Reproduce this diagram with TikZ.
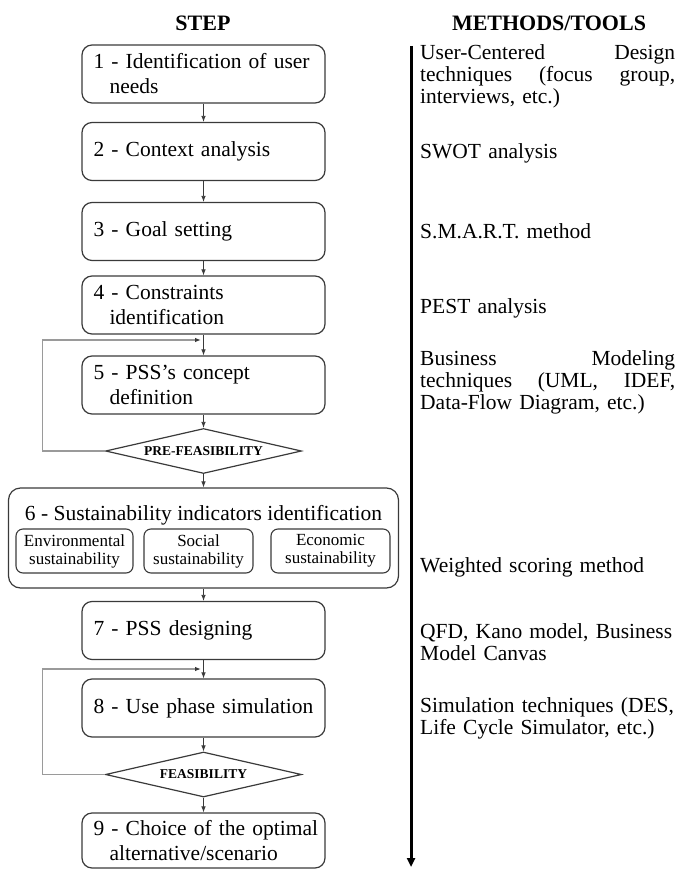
\documentclass[tikz,border=0pt]{standalone}
\usepackage{fontspec}
\setmainfont{Liberation Serif}
\usetikzlibrary{shapes.geometric,arrows.meta}
\definecolor{boxline}{HTML}{3A3A3A}
\definecolor{fbline}{HTML}{9A9A9A}
\newcommand\firstln{\hspace*{6pt}}
\newcommand\nextln{\hspace*{22pt}}
\begin{document}
\begin{tikzpicture}[x=1pt,y=-1pt,
  stepbox/.style={draw=boxline, line width=1.2pt, rounded corners=10pt,
    minimum width=243pt, minimum height=58pt, text width=232pt,
    inner xsep=5.5pt, inner ysep=2pt, align=left,
    font=\fontsize{21.5}{25}\selectfont},
  subbox/.style={draw=boxline, line width=1.1pt, rounded corners=7pt,
    minimum height=44pt, inner sep=1pt, align=center,
    font=\fontsize{17}{18}\selectfont},
  decision/.style={draw=boxline, line width=1.2pt, diamond, inner sep=0pt,
    minimum width=196pt, minimum height=45pt, aspect=4.45,
    font=\fontsize{13.5}{14}\selectfont\bfseries},
  header/.style={font=\fontsize{22}{24}\selectfont\bfseries},
  method/.style={anchor=base west, text width=255pt, align=left, inner sep=0pt,
    font=\fontsize{21.5}{22}\selectfont},
  conn/.style={draw=boxline, line width=0.8pt, -{Latex[length=6pt,width=4.5pt]}},
  feedback/.style={draw=fbline, line width=1.1pt,
    -{Latex[length=6pt,width=4.5pt,color=boxline]}},
  timeline/.style={draw=black, line width=3pt, -{Triangle[length=9pt,width=8pt]}}
]
\useasboundingbox (0,0) rectangle (679,869);

% headers
\node[header] (hstep) at (203,23) {STEP};
\node[header] (hmeth) at (549,23) {METHODS/TOOLS};

% step boxes
\node[stepbox] (b1) at (203.5,74) {\firstln 1 - Identification of user\\\nextln needs};
\node[stepbox] (b2) at (203.5,151.5) {\firstln 2 - Context analysis};
\node[stepbox] (b3) at (203.5,231.5) {\firstln 3 - Goal setting};
\node[stepbox] (b4) at (203.5,305) {\firstln 4 - Constraints\\\nextln identification};
\node[stepbox] (b5) at (203.5,385) {\firstln 5 - PSS's concept\\\nextln definition};
\node[decision] (d1) at (203.5,451) {PRE-FEASIBILITY};
\node[draw=boxline, line width=1.2pt, rounded corners=12pt,
  minimum width=390pt, minimum height=100pt] (b6) at (203.5,538) {};
\node[font=\fontsize{21.5}{25}\selectfont] (b6t) at (203.5,515)
  {6 - Sustainability indicators identification};
\node[subbox, minimum width=117pt] (s1) at (74.5,551) {Environmental\\sustainability};
\node[subbox, minimum width=109pt] (s2) at (198.5,551) {Social\\sustainability};
\node[subbox, minimum width=119pt] (s3) at (330.5,551) {Economic\\sustainability};
\node[stepbox] (b7) at (203.5,630.5) {\firstln 7 - PSS designing};
\node[stepbox] (b8) at (203.5,708) {\firstln 8 - Use phase simulation};
\node[decision] (d2) at (203.5,774.5) {FEASIBILITY};
\node[stepbox, minimum height=55pt] (b9) at (203.5,840.5) {\firstln 9 - Choice of the optimal\\\nextln alternative/scenario};

% connectors
\draw[conn] (b1) -- (b2);
\draw[conn] (b2) -- (b3);
\draw[conn] (b3) -- (b4);
\draw[conn] (b4) -- (b5);
\draw[conn] (b5) -- (d1);
\draw[conn] (d1) -- (b6);
\draw[conn] (b6) -- (b7);
\draw[conn] (b7) -- (b8);
\draw[conn] (b8) -- (d2);
\draw[conn] (d2) -- (b9);

% feedback loops
\coordinate (f1) at (201,340);
\coordinate (f2) at (201,669);
\draw[feedback] (d1.west) -- ++(-62,0) |- (f1);
\draw[feedback] (d2.west) -- ++(-62,0) |- (f2);

% timeline
\coordinate (vtop) at (411,46);
\coordinate (vbot) at (411,867);
\draw[timeline] (vtop) -- (vbot);

% methods / tools
\node[method] (m1) at (420,60) {User-Centered\hfill Design\\techniques\hfill (focus\hfill group,\\interviews, etc.)};
\node[method] (m2) at (420,159) {SWOT analysis};
\node[method] (m3) at (420,238.5) {S.M.A.R.T. method};
\node[method] (m4) at (420,313) {PEST analysis};
\node[method] (m5) at (420,365) {Business\hfill Modeling\\techniques\hfill (UML,\hfill IDEF,\\Data-Flow Diagram, etc.)};
\node[method] (m6) at (420,572) {Weighted scoring method};
\node[method] (m7) at (420,638) {QFD, Kano model, Business\\Model Canvas};
\node[method] (m8) at (420,712) {Simulation techniques (DES,\\Life Cycle Simulator, etc.)};
\end{tikzpicture}
\end{document}
